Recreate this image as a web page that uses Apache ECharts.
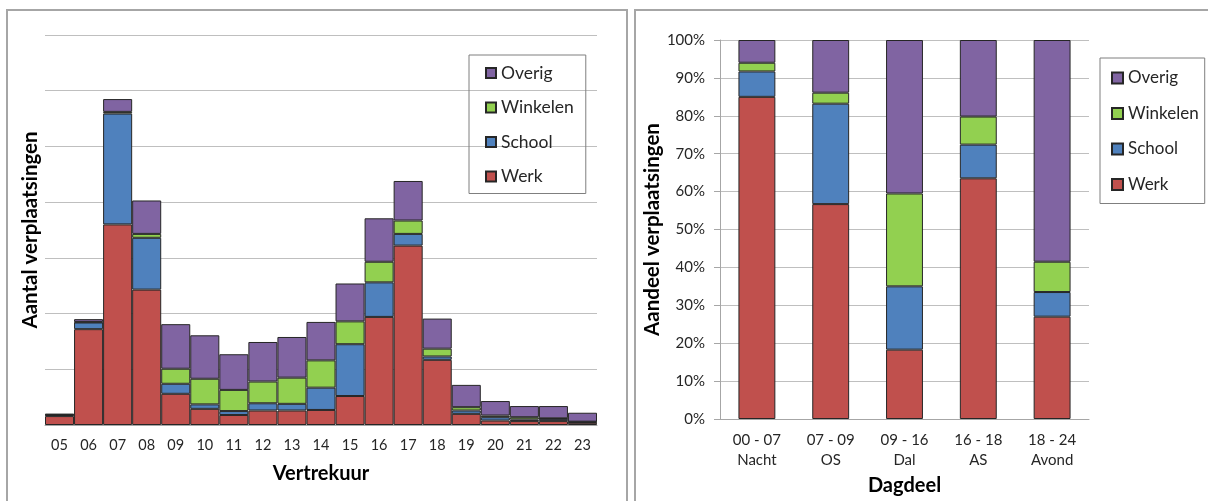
<!DOCTYPE html>
<html>
<head>
<meta charset="utf-8">
<script src="https://cdn.jsdelivr.net/npm/echarts@6/dist/echarts.min.js"></script>
<style>
  html, body { margin: 0; padding: 0; background: #fff; }
  #chart { width: 1208px; height: 501px; }
</style>
</head>
<body>
<div id="chart"></div>
<script>
// Verplaatsingen per vertrekuur (aantallen)
const uren = ['05','06','07','08','09','10','11','12','13','14','15','16','17','18','19','20','21','22','23'];
const werkUur     = [160,1720,3600,2430,560,290,180,260,260,270,520,1940,3220,1170,200,80,70,70,40];
const schoolUur   = [20,120,1990,930,180,80,70,130,120,400,930,620,210,60,60,60,30,40,15];
const winkelenUur = [5,10,30,70,270,460,380,390,470,490,410,370,240,140,60,30,40,10,5];
const overigUur   = [15,50,230,600,800,780,640,710,730,690,680,780,710,540,400,260,200,220,160];

// Aandeel per dagdeel (procenten)
const dagdelen = ['00 - 07\nNacht','07 - 09\nOS','09 - 16\nDal','16 - 18\nAS','18 - 24\nAvond'];
const werkDeel     = [85.0,56.7,18.3,63.5,27.0];
const schoolDeel   = [6.7,26.5,16.7,8.9,6.5];
const winkelenDeel = [2.3,2.9,24.5,7.4,8.0];
const overigDeel   = [6.0,13.9,40.5,20.2,58.5];

const legendaNamen = ['Overig','Winkelen','School','Werk'];
const kleuren = { Werk: '#C0504D', School: '#4F81BD', Winkelen: '#92D050', Overig: '#8064A2' };

const FONT = 'Lato, "Liberation Sans", sans-serif';
const TEXT = '#262626';

function balk(name, data, xi, stack, extra) {
  return Object.assign({
    name: name,
    type: 'bar',
    stack: stack,
    xAxisIndex: xi,
    yAxisIndex: xi,
    data: data,
    itemStyle: { color: kleuren[name], borderColor: '#262626', borderWidth: 1 },
    emphasis: { disabled: true },
    animation: false
  }, extra || {});
}

const chart = echarts.init(document.getElementById('chart'), null, { renderer: 'canvas' });

chart.setOption({
  backgroundColor: '#fff',
  textStyle: { fontFamily: FONT },
  graphic: [
    { type: 'rect', shape: { x: 7, y: 10, width: 620, height: 530 },
      style: { fill: 'none', stroke: '#a6a6a6', lineWidth: 2 }, silent: true },
    { type: 'rect', shape: { x: 635, y: 10, width: 620, height: 530 },
      style: { fill: 'none', stroke: '#a6a6a6', lineWidth: 2 }, silent: true }
  ],
  legend: [
    {
      data: legendaNamen, orient: 'vertical', left: 469, top: 55,
      icon: 'rect', itemWidth: 10, itemHeight: 10, itemGap: 16.5,
      padding: [9, 12, 8, 16],
      borderColor: '#7f7f7f', borderWidth: 1,
      textStyle: { fontFamily: FONT, fontSize: 17.5, color: TEXT, lineHeight: 18 },
      selectedMode: false
    },
    {
      data: legendaNamen, orient: 'vertical', left: 1100, top: 58,
      icon: 'rect', itemWidth: 11, itemHeight: 11, itemGap: 17.5,
      padding: [11, 6, 10, 11],
      borderColor: '#7f7f7f', borderWidth: 1,
      textStyle: { fontFamily: FONT, fontSize: 17, color: TEXT, lineHeight: 18 },
      selectedMode: false
    }
  ],
  grid: [
    { left: 45, right: 611, top: 35, bottom: 76 },
    { left: 720, right: 119, top: 40, bottom: 78 }
  ],
  xAxis: [
    {
      type: 'category', gridIndex: 0, data: uren,
      name: 'Vertrekuur', nameLocation: 'middle', nameGap: 39,
      nameTextStyle: { fontFamily: FONT, fontSize: 20, fontWeight: 'bold', color: '#000' },
      axisLine: { lineStyle: { color: '#a6a6a6' } },
      axisTick: { length: 6, lineStyle: { color: '#a6a6a6' } },
      axisLabel: { fontFamily: FONT, fontSize: 14.5, color: TEXT, margin: 13 }
    },
    {
      type: 'category', gridIndex: 1, data: dagdelen,
      name: 'Dagdeel', nameLocation: 'middle', nameGap: 57,
      nameTextStyle: { fontFamily: FONT, fontSize: 20, fontWeight: 'bold', color: '#000' },
      axisLine: { lineStyle: { color: '#a6a6a6' } },
      axisTick: { length: 6, lineStyle: { color: '#a6a6a6' } },
      axisLabel: { fontFamily: FONT, fontSize: 15, color: TEXT, margin: 11, lineHeight: 20 }
    }
  ],
  yAxis: [
    {
      type: 'value', gridIndex: 0, min: 0, max: 7000, interval: 1000,
      name: 'Aantal verplaatsingen', nameLocation: 'middle', nameRotate: 90, nameGap: 4,
      nameTextStyle: { fontFamily: FONT, fontSize: 20.5, fontWeight: 'bold', color: '#000' },
      axisLine: { show: false }, axisTick: { show: false }, axisLabel: { show: false },
      splitLine: { lineStyle: { color: '#bfbfbf' } }
    },
    {
      type: 'value', gridIndex: 1, min: 0, max: 100, interval: 10,
      name: 'Aandeel verplaatsingen', nameLocation: 'middle', nameRotate: 90, nameGap: 54,
      nameTextStyle: { fontFamily: FONT, fontSize: 20.5, fontWeight: 'bold', color: '#000' },
      axisLine: { show: true, lineStyle: { color: '#a6a6a6' } },
      axisTick: { show: true, length: 6, lineStyle: { color: '#a6a6a6' } },
      axisLabel: { fontFamily: FONT, fontSize: 15, color: TEXT, margin: 15, formatter: '{value}%' },
      splitLine: { lineStyle: { color: '#bfbfbf' } }
    }
  ],
  series: [
    balk('Werk', werkUur, 0, 'uur', { barCategoryGap: 0 }),
    balk('School', schoolUur, 0, 'uur', { barCategoryGap: 0 }),
    balk('Winkelen', winkelenUur, 0, 'uur', { barCategoryGap: 0 }),
    balk('Overig', overigUur, 0, 'uur', { barCategoryGap: 0 }),
    balk('Werk', werkDeel, 1, 'deel', { barWidth: '50%' }),
    balk('School', schoolDeel, 1, 'deel', { barWidth: '50%' }),
    balk('Winkelen', winkelenDeel, 1, 'deel', { barWidth: '50%' }),
    balk('Overig', overigDeel, 1, 'deel', { barWidth: '50%' })
  ]
});
</script>
</body>
</html>
